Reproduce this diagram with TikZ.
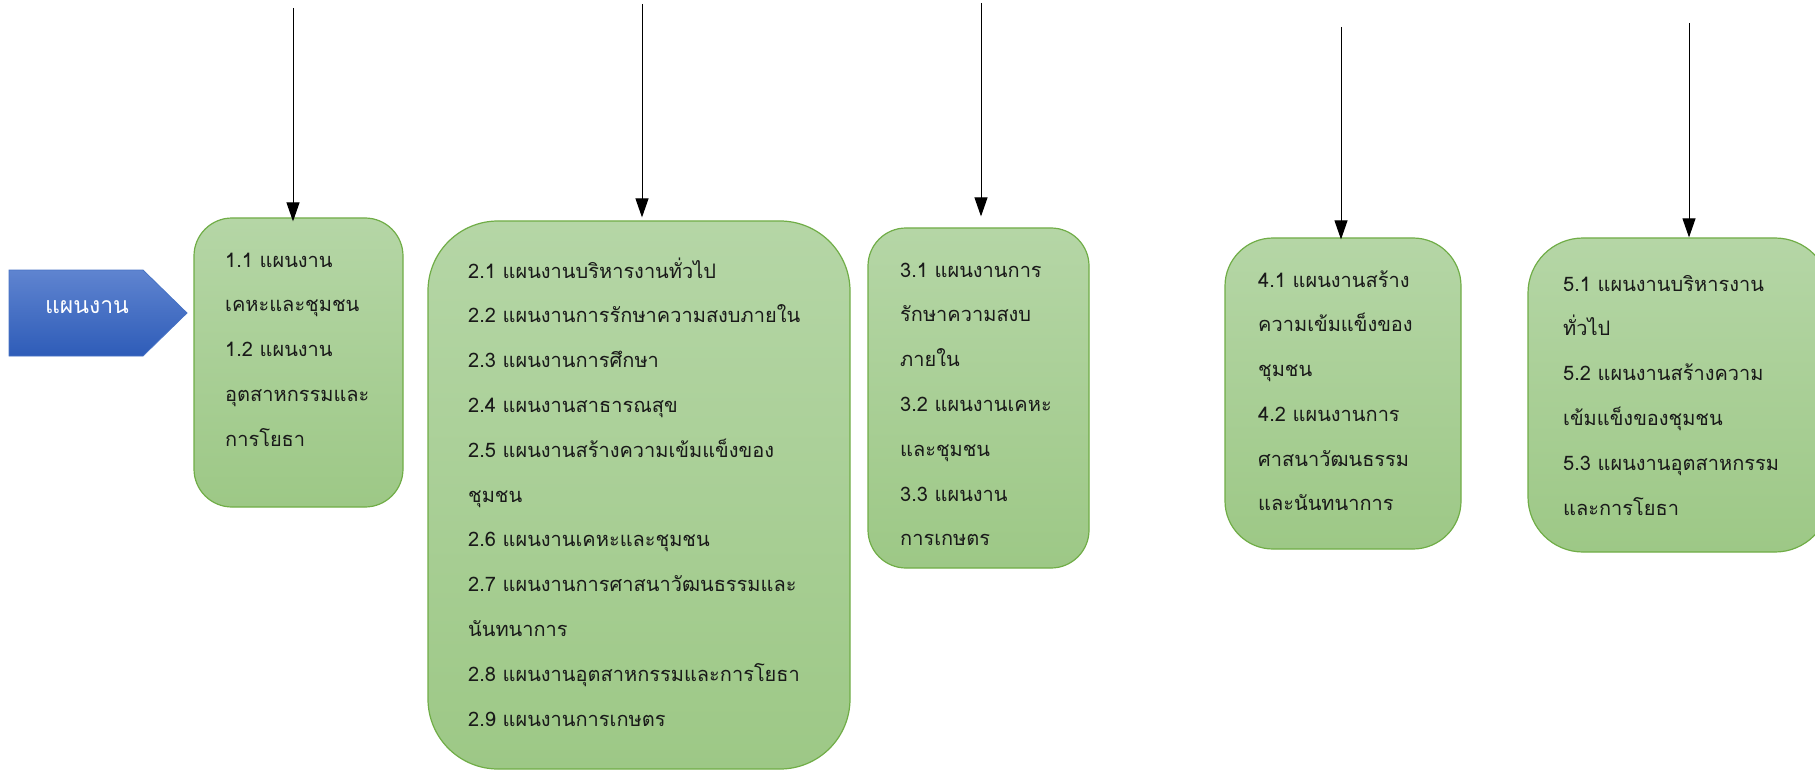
\documentclass[tikz,border=0pt]{standalone}
\usepackage{fontspec}
\newfontfamily\thaifont[Script=Thai]{Loma}
\usetikzlibrary{arrows.meta}
\definecolor{gtop}{RGB}{181,214,166}
\definecolor{gbot}{RGB}{157,200,134}
\definecolor{gline}{RGB}{112,173,71}
\definecolor{btop}{RGB}{95,132,208}
\definecolor{bbot}{RGB}{46,92,184}
\definecolor{bline}{RGB}{70,114,196}
\definecolor{txtc}{RGB}{25,25,25}
\begin{document}
\begin{tikzpicture}[x=1pt,y=-1pt,
  plan/.style={draw=gline, line width=1.2pt, top color=gtop, bottom color=gbot, inner sep=0pt},
  arr/.style={-{Triangle[length=19pt,width=13pt]}, line width=1pt, black},
  txt/.style={anchor=base west, align=left, inner sep=0pt, text width=420pt,
              font=\thaifont\fontsize{20}{44.8}\selectfont, text=txtc}]
\useasboundingbox (0,0) rectangle (1815,770);

% blue arrow shape
\path[draw=bline, line width=0.8pt, top color=btop, bottom color=bbot]
  (9,270) -- (143,270) -- (187,313) -- (143,356) -- (9,356) -- cycle;
\node[inner sep=0pt, anchor=base, text=white, font=\thaifont\fontsize{23}{28}\selectfont] (plan) at (87,313) {แผนงาน};

% boxes
\node[plan, rounded corners=38pt, minimum width=209pt, minimum height=289pt] (b1) at (298.5,362.5) {};
\node[plan, rounded corners=70pt, minimum width=422pt, minimum height=548pt] (b2) at (639,495) {};
\node[plan, rounded corners=38pt, minimum width=221pt, minimum height=340pt] (b3) at (978.5,398) {};
\node[plan, rounded corners=48pt, minimum width=236pt, minimum height=311pt] (b4) at (1343,393.5) {};
\node[plan, rounded corners=55pt, minimum width=302pt, minimum height=314pt] (b5) at (1679,395) {};

% texts
\node[txt] (x1) at (225,267) {1.1 แผนงาน\\เคหะและชุมชน\\1.2 แผนงาน\\อุตสาหกรรมและ\\การโยธา};
\node[txt] (x2) at (468,278) {2.1 แผนงานบริหารงานทั่วไป\\2.2 แผนงานการรักษาความสงบภายใน\\2.3 แผนงานการศึกษา\\2.4 แผนงานสาธารณสุข\\2.5 แผนงานสร้างความเข้มแข็งของ\\ชุมชน\\2.6 แผนงานเคหะและชุมชน\\2.7 แผนงานการศาสนาวัฒนธรรมและ\\นันทนาการ\\2.8 แผนงานอุตสาหกรรมและการโยธา\\2.9 แผนงานการเกษตร};
\node[txt] (x3) at (900,277) {3.1 แผนงานการ\\รักษาความสงบ\\ภายใน\\3.2 แผนงานเคหะ\\และชุมชน\\3.3 แผนงาน\\การเกษตร};
\node[txt] (x4) at (1258,287) {4.1 แผนงานสร้าง\\ความเข้มแข็งของ\\ชุมชน\\4.2 แผนงานการ\\ศาสนาวัฒนธรรม\\และนันทนาการ};
\node[txt] (x5) at (1563,291) {5.1 แผนงานบริหารงาน\\ทั่วไป\\5.2 แผนงานสร้างความ\\เข้มแข็งของชุมชน\\5.3 แผนงานอุตสาหกรรม\\และการโยธา};

% arrows
\coordinate (t1) at (293,8);
\coordinate (t2) at (642,4);
\coordinate (t3) at (981,3);
\coordinate (t4) at (1341,27);
\coordinate (t5) at (1689,23);
\draw[arr, shorten >=-4pt] (t1) -- (t1 |- b1.north);
\draw[arr, shorten >=3pt] (t2) -- (t2 |- b2.north);
\draw[arr, shorten >=11pt] (t3) -- (t3 |- b3.north);
\draw[arr, shorten >=-2pt] (t4) -- (t4 |- b4.north);
\draw[arr] (t5) -- (t5 |- b5.north);
\end{tikzpicture}
\end{document}
